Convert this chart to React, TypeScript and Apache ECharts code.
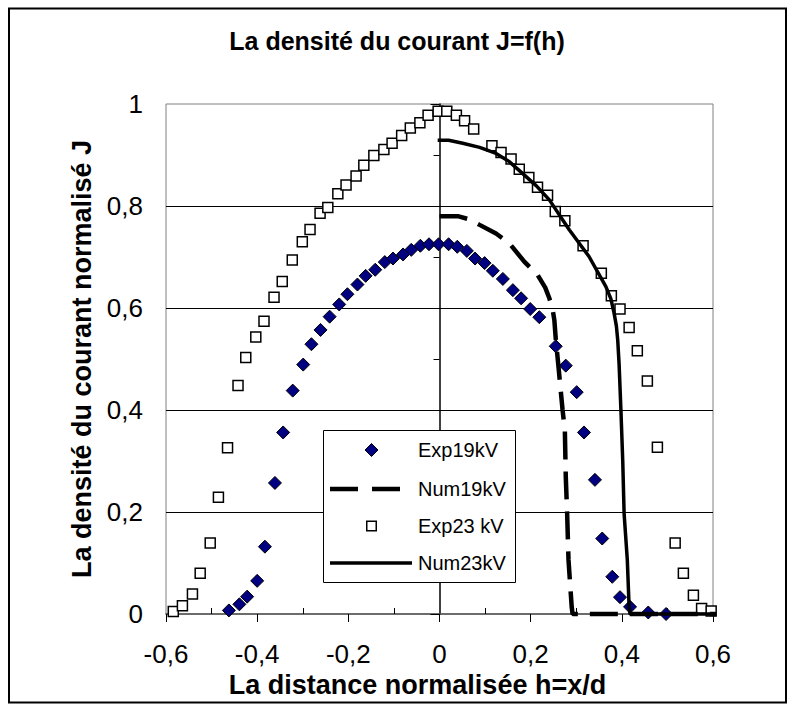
import React, { useEffect, useRef } from 'react';
import * as echarts from 'echarts';

// Experimental 19 kV (diamonds)
const exp19X = [-0.462, -0.439, -0.422, -0.4, -0.383, -0.361, -0.343, -0.322, -0.299, -0.281, -0.261, -0.241, -0.22, -0.202, -0.18, -0.162, -0.141, -0.12, -0.102, -0.08, -0.062, -0.042, -0.023, -0.002, 0.02, 0.039, 0.06, 0.078, 0.099, 0.117, 0.139, 0.161, 0.179, 0.199, 0.219, 0.255, 0.277, 0.301, 0.317, 0.341, 0.357, 0.379, 0.396, 0.418, 0.458, 0.497];
const exp19Y = [0.007, 0.019, 0.034, 0.065, 0.132, 0.257, 0.356, 0.438, 0.489, 0.529, 0.557, 0.583, 0.607, 0.627, 0.646, 0.663, 0.675, 0.69, 0.697, 0.705, 0.714, 0.722, 0.725, 0.725, 0.725, 0.72, 0.712, 0.697, 0.688, 0.673, 0.657, 0.635, 0.619, 0.598, 0.582, 0.525, 0.487, 0.435, 0.356, 0.263, 0.148, 0.073, 0.033, 0.014, 0.003, 0.0];

// Numerical 19 kV (dashed line)
const num19X = [0.0, 0.04, 0.065, 0.088, 0.124, 0.153, 0.186, 0.215, 0.232, 0.241, 0.248, 0.252, 0.255, 0.261, 0.27, 0.275, 0.277, 0.28, 0.283, 0.29, 0.292, 0.615];
const num19Y = [0.78, 0.78, 0.774, 0.763, 0.746, 0.727, 0.691, 0.665, 0.64, 0.619, 0.598, 0.576, 0.54, 0.485, 0.4, 0.36, 0.27, 0.197, 0.106, 0.014, 0.0, 0.0];

// Experimental 23 kV (squares)
const exp23X = [-0.606, -0.584, -0.564, -0.542, -0.525, -0.503, -0.485, -0.465, -0.442, -0.425, -0.403, -0.385, -0.363, -0.345, -0.323, -0.301, -0.284, -0.262, -0.245, -0.223, -0.205, -0.183, -0.166, -0.144, -0.122, -0.104, -0.083, -0.064, -0.043, -0.025, -0.003, 0.016, 0.037, 0.055, 0.075, 0.115, 0.135, 0.157, 0.175, 0.196, 0.215, 0.237, 0.254, 0.275, 0.315, 0.355, 0.377, 0.396, 0.416, 0.434, 0.456, 0.478, 0.517, 0.535, 0.557, 0.575, 0.596];
const exp23Y = [0.005, 0.005, 0.016, 0.039, 0.08, 0.139, 0.229, 0.326, 0.448, 0.503, 0.543, 0.574, 0.621, 0.652, 0.694, 0.73, 0.754, 0.786, 0.797, 0.824, 0.841, 0.859, 0.88, 0.899, 0.911, 0.923, 0.938, 0.953, 0.963, 0.978, 0.986, 0.986, 0.978, 0.967, 0.951, 0.918, 0.905, 0.892, 0.872, 0.856, 0.837, 0.821, 0.789, 0.771, 0.722, 0.668, 0.624, 0.598, 0.562, 0.516, 0.457, 0.327, 0.139, 0.08, 0.037, 0.011, 0.006];

// Numerical 23 kV (solid line)
const num23X = [-0.004, 0.02, 0.051, 0.088, 0.124, 0.153, 0.182, 0.212, 0.241, 0.285, 0.328, 0.365, 0.376, 0.383, 0.388, 0.391, 0.394, 0.398, 0.402, 0.405, 0.412, 0.416, 0.418, 0.615];
const num23Y = [0.929, 0.929, 0.923, 0.915, 0.903, 0.887, 0.864, 0.84, 0.812, 0.753, 0.701, 0.642, 0.618, 0.59, 0.565, 0.537, 0.49, 0.4, 0.3, 0.197, 0.106, 0.014, 0.0, 0.0];

const seriesNames = ['Exp19kV', 'Num19kV', 'Exp23 kV', 'Num23kV'];
const titleText = 'La densité du courant J=f(h)';
const xTitle = 'La distance normalisée h=x/d';
const yTitle = 'La densité du courant normalisé J';

const zip = (xs: number[], ys: number[]) => xs.map((x, i) => [x, ys[i]]);
const fmt = (v: number) => String(Math.round(v * 10) / 10).replace('.', ',');
const FONT = 'Liberation Sans, Arial, sans-serif';

export default function App() {
  const ref = useRef<HTMLDivElement>(null);
  useEffect(() => {
    const chart = echarts.init(ref.current as HTMLDivElement, null, { renderer: 'svg' });

    // Legend drawn as graphic elements (box, symbols, line samples, labels)
    const lgX = 323.5;
    const lgY = 430.5;
    const rows = [450, 489, 526, 563];
    const iconL = 330;
    const iconR = 412;
    const iconC = 371.5;
    const textX = 418;
    const legendGraphic: any[] = [
      {
        type: 'rect',
        shape: { x: lgX, y: lgY, width: 192, height: 152 },
        style: { fill: '#fff', stroke: '#000', lineWidth: 1 },
        z: 50,
      },
      {
        type: 'polygon',
        shape: { points: [[iconC, rows[0] - 6.5], [iconC + 6.5, rows[0]], [iconC, rows[0] + 6.5], [iconC - 6.5, rows[0]]] },
        style: { fill: '#000080', stroke: '#000', lineWidth: 1 },
        z: 51,
      },
      {
        type: 'line',
        shape: { x1: iconL, y1: rows[1], x2: iconR, y2: rows[1] },
        style: { stroke: '#000', lineWidth: 4.5, lineDash: [28, 14] },
        z: 51,
      },
      {
        type: 'rect',
        shape: { x: iconC - 4.75, y: rows[2] - 4.75, width: 9.5, height: 9.5 },
        style: { fill: '#fff', stroke: '#000', lineWidth: 1.5 },
        z: 51,
      },
      {
        type: 'line',
        shape: { x1: iconL, y1: rows[3], x2: iconR, y2: rows[3] },
        style: { stroke: '#000', lineWidth: 3.5 },
        z: 51,
      },
      ...seriesNames.map((name, i) => ({
        type: 'text',
        x: textX,
        y: rows[i],
        style: {
          text: name,
          fill: '#000',
          font: `20px ${FONT}`,
          textAlign: 'left',
          textVerticalAlign: 'middle',
        },
        z: 51,
      })),
    ];

    chart.setOption({
      animation: false,
      backgroundColor: '#ffffff',
      textStyle: { fontFamily: FONT, color: '#000' },
      title: {
        text: titleText,
        left: 'center',
        top: 23,
        textStyle: { fontFamily: FONT, fontSize: 25, fontWeight: 'bold', color: '#000' },
      },
      graphic: [
        {
          type: 'rect',
          shape: { x: 9, y: 8.5, width: 777, height: 694 },
          style: { fill: 'none', stroke: '#000', lineWidth: 2 },
          silent: true,
          z: 100,
        },
        ...legendGraphic,
      ],
      grid: {
        left: 166,
        right: 81,
        top: 104,
        bottom: 96,
        show: true,
        borderColor: '#808080',
        borderWidth: 1,
        backgroundColor: 'transparent',
      },
      xAxis: {
        type: 'value',
        min: -0.6,
        max: 0.6,
        interval: 0.2,
        name: xTitle,
        nameLocation: 'middle',
        nameGap: 49,
        nameTextStyle: { fontFamily: FONT, fontSize: 27, fontWeight: 'bold', color: '#000', padding: [0, 44, 0, 0] },
        axisLine: { onZero: false, lineStyle: { color: '#505050', width: 1.5 } },
        axisTick: { show: true, length: 8, lineStyle: { color: '#000', width: 1 } },
        minorTick: { show: true, splitNumber: 2, length: -6, lineStyle: { color: '#000', width: 1 } },
        axisLabel: { fontFamily: FONT, fontSize: 26, color: '#000', margin: 27, formatter: fmt },
        splitLine: { show: false },
      },
      yAxis: {
        type: 'value',
        min: 0,
        max: 1,
        interval: 0.2,
        name: yTitle,
        nameLocation: 'middle',
        nameGap: 57,
        nameTextStyle: { fontFamily: FONT, fontSize: 27, fontWeight: 'bold', color: '#000' },
        axisLine: { show: true, lineStyle: { color: '#000', width: 1.5 } },
        axisTick: { show: true, length: 9, lineStyle: { color: '#000', width: 1 } },
        minorTick: { show: true, splitNumber: 2, length: 6, lineStyle: { color: '#000', width: 1 } },
        axisLabel: { fontFamily: FONT, fontSize: 26, color: '#000', margin: 23, formatter: fmt },
        splitLine: { show: true, showMinLine: false, showMaxLine: false, lineStyle: { color: '#000', width: 1 } },
      },
      series: [
        {
          name: seriesNames[0],
          type: 'scatter',
          symbol: 'diamond',
          symbolSize: 13,
          itemStyle: { color: '#000080', borderColor: '#000', borderWidth: 1, opacity: 1 },
          data: zip(exp19X, exp19Y),
        },
        {
          name: seriesNames[1],
          type: 'line',
          symbol: 'none',
          showSymbol: false,
          clip: false,
          lineStyle: { color: '#000', width: 4.5, type: [28, 12] },
          itemStyle: { color: '#000' },
          data: zip(num19X, num19Y),
        },
        {
          name: seriesNames[2],
          type: 'scatter',
          symbol: 'rect',
          symbolSize: 10,
          itemStyle: { color: '#fff', borderColor: '#000', borderWidth: 1.5, opacity: 1 },
          data: zip(exp23X, exp23Y),
        },
        {
          name: seriesNames[3],
          type: 'line',
          symbol: 'none',
          showSymbol: false,
          clip: false,
          lineStyle: { color: '#000', width: 3.5 },
          itemStyle: { color: '#000' },
          data: zip(num23X, num23Y),
        },
      ],
    });
    return () => chart.dispose();
  }, []);
  return (
    <div
      ref={ref}
      style={{ position: 'fixed', left: 0, top: 0, width: 794, height: 710, background: '#fff' }}
    />
  );
}
